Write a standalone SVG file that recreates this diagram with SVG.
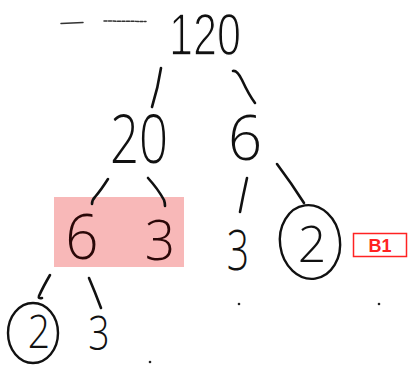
<svg xmlns="http://www.w3.org/2000/svg" width="409" height="365" viewBox="0 0 409 365">
<style>
.d{font-family:"Open Sans","DejaVu Sans",sans-serif;font-weight:300;fill:#111;text-anchor:middle}
.p{fill:#2a0808}
.c{fill:none;stroke:#111;stroke-width:2.6;stroke-linecap:round;stroke-linejoin:round}
.ring{fill:none;stroke:#111;stroke-width:2.4}
.mark{fill:none;stroke:#333;stroke-width:1.5;stroke-linecap:round}
</style>
<rect width="409" height="365" fill="#fff"/>
<g id="scribbles">
<path class="mark" d="M61 23.5 L83 22.5"/>
<path class="mark" d="M104 21 L146 21.5" stroke-dasharray="3 1.5" stroke-width="1.2"/>
<circle cx="239" cy="304" r="1.3" fill="#222"/>
<circle cx="379" cy="304" r="1.3" fill="#222"/>
<circle cx="150" cy="362" r="1.3" fill="#222"/>
</g>
<g id="highlight">
<rect x="54" y="197" width="130" height="70" fill="#f8b8b8"/>
</g>
<g id="connectors">
<path class="c" d="M161 68 Q158 88 152 107"/>
<path class="c" d="M233 71 Q237 70 242 80 Q249 95 255 103"/>
<path class="c" d="M108 179 Q101 190 95 197 Q92 200 92 204"/>
<path class="c" d="M148 178 Q158 189 164 200 Q165 203 165 206"/>
<path class="c" d="M247 178 Q243 196 240 212"/>
<path class="c" d="M277 164 Q292 184 304 203"/>
<path class="c" d="M50 275 Q43 287 39 296 Q38 299 42 298"/>
<path class="c" d="M89 278 Q95 292 101 308"/>
</g>
<g id="n120"><text transform="translate(205,54.5) scale(0.72,1)" font-family="Liberation Sans,Arial,sans-serif" font-size="60" fill="#111" stroke="#fff" stroke-width="1.6" stroke-linejoin="round" text-anchor="middle">120</text></g>
<g id="n20"><text class="d" transform="translate(139,163) scale(0.76,1)" font-size="67">20</text></g>
<g id="n6r"><text class="d" transform="translate(245,160) scale(0.95,1)" font-size="63">6</text></g>
<g id="n6p"><text class="d p" transform="translate(82,259) scale(0.94,1)" font-size="62">6</text></g>
<g id="n3p"><text class="d p" transform="translate(160,260) scale(0.95,1)" font-size="56">3</text></g>
<g id="n3r"><text class="d" transform="translate(238,270) scale(0.7,1)" font-size="56">3</text></g>
<g id="n2r">
<ellipse class="ring" cx="310" cy="242" rx="30" ry="37" transform="rotate(-8 310 242)"/>
<text class="d" x="312" y="262" font-size="50">2</text>
</g>
<g id="n2l">
<ellipse class="ring" cx="33" cy="333" rx="25" ry="30"/>
<text class="d" transform="translate(39,348) scale(0.85,1)" font-size="46">2</text>
</g>
<g id="n3b"><text class="d" transform="translate(99,350) scale(0.78,1)" font-size="48">3</text></g>
<g id="b1">
<rect x="353.5" y="233.5" width="53" height="23" fill="#fff" stroke="#f22" stroke-width="1.5"/>
<text x="380" y="252" font-family="Liberation Sans,Arial,sans-serif" font-weight="bold" font-size="18" fill="#f22" text-anchor="middle">B1</text>
</g>
</svg>
